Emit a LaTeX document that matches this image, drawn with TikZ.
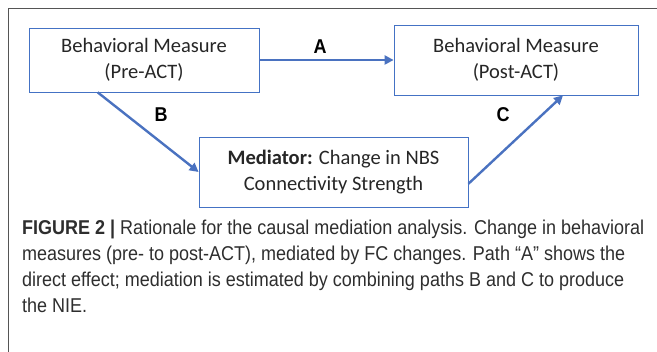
\documentclass[tikz,border=0pt]{standalone}
\usepackage{fontspec}
\usetikzlibrary{arrows.meta}
\setmainfont{Carlito}
\newfontfamily\capfont[FakeStretch=0.9]{Liberation Sans}
\definecolor{boxblue}{HTML}{4472C4}
\definecolor{arrowblue}{HTML}{4A72C0}
\definecolor{framegray}{HTML}{555555}
\definecolor{captext}{HTML}{2E2E2E}
\definecolor{boxtext}{HTML}{262626}

\begin{document}
\begin{tikzpicture}[x=1pt,y=-1pt]
      \tikzstyle{box}=[draw=boxblue, line width=0.8pt, inner sep=0pt, align=center, text=boxtext, font=\fontsize{20.5}{26}\selectfont]
      \tikzstyle{link}=[draw=arrowblue, line width=2.4pt, -{Triangle[length=9pt,width=9pt]}]
      \tikzstyle{path label}=[font=\capfont\bfseries\fontsize{20}{20}\selectfont, inner sep=0pt]
      \useasboundingbox (0,0) rectangle (657,352);
      % frame
      \draw [framegray, line width=1pt] (657,9) -- (8,9) -- (8,352);
      % boxes
      \node [box, minimum width=230pt, minimum height=64pt] (pre) at (144,60) {Behavioral Measure\\(Pre-ACT)};
      \node [box, minimum width=244pt, minimum height=70pt] (post) at (516,60) {Behavioral Measure\\(Post-ACT)};
      \node [box, minimum width=269pt, minimum height=70pt] (med) at (333.5,172) {\textbf{Mediator:} Change in NBS\\Connectivity Strength};
      % paths
      \draw [link] (pre.east) -- (post.west);
      \draw [link] (pre.215) -- (med.west);
      \draw [link] (med.-5) -- (post.-37);
      \node [path label] (labA) at (320,47) {A};
      \node [path label] (labB) at (161,115) {B};
      \node [path label] (labC) at (503,115) {C};
      % caption
      \node [anchor=north west, inner sep=0pt, align=left, text=captext,
        font=\capfont\fontsize{20}{26}\selectfont] (caption) at (22,220)
        {\textbf{FIGURE 2 |} Rationale for the causal mediation analysis. Change in behavioral\\
         measures (pre- to post-ACT), mediated by FC changes. Path “A” shows the\\
         direct effect; mediation is estimated by combining paths B and C to produce\\
         the NIE.};
\end{tikzpicture}
\end{document}
